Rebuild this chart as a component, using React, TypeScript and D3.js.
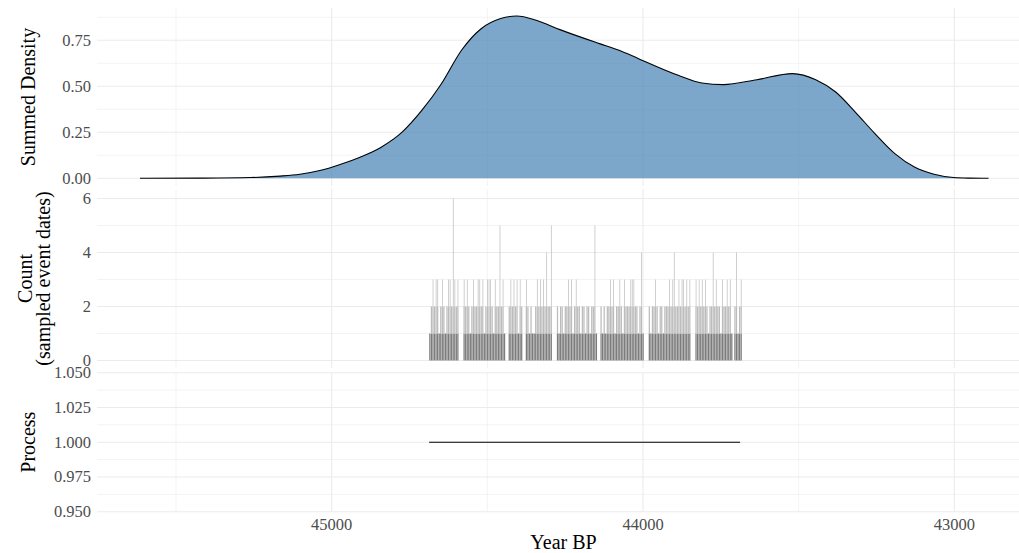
import React from "react";
import * as d3 from "d3";

// ---------- data ----------
const densityYears = [
  45616, 45423, 45262, 45166, 45102, 45038, 44973, 44909, 44845, 44773, 44710,
  44647, 44583, 44520, 44457, 44406, 44343, 44267, 44140, 44077, 44014, 43887,
  43811, 43742, 43634, 43520, 43445, 43381, 43318, 43255, 43191, 43128, 43065,
  43002, 42950, 42890,
];
const densityValues = [
  0, 0.001, 0.004, 0.012, 0.022, 0.042, 0.075, 0.115, 0.165, 0.252, 0.37, 0.515,
  0.696, 0.813, 0.868, 0.882, 0.859, 0.808, 0.732, 0.696, 0.65, 0.56, 0.518,
  0.509, 0.536, 0.569, 0.536, 0.469, 0.36, 0.243, 0.134, 0.061, 0.022, 0.004,
  0.001, 0,
];

// counts of sampled event dates, in 5-year bins starting at binStartYear (going younger)
const binStartYear = 44687;
const binWidthYears = 5;
const binCounts = [
  1, 2, 3, 2, 3, 3, 1, 2, 3, 2, 1, 2, 3, 3, 2, 6, 3, 2, 3, 0,
  0, 0, 3, 2, 3, 2, 1, 2, 3, 2, 2, 3, 3, 2, 3, 1, 2, 3, 3, 3,
  2, 1, 3, 2, 2, 5, 2, 3, 1, 0, 0, 2, 3, 2, 3, 2, 3, 1, 3, 2,
  0, 0, 3, 2, 1, 2, 1, 1, 2, 3, 2, 3, 2, 3, 2, 4, 2, 2, 5, 0,
  0, 0, 2, 1, 2, 2, 1, 2, 2, 3, 2, 3, 1, 2, 3, 2, 2, 1, 2, 2,
  1, 2, 2, 1, 2, 2, 5, 1, 0, 0, 2, 1, 2, 1, 2, 2, 3, 2, 3, 1,
  2, 2, 3, 2, 1, 3, 2, 2, 2, 3, 3, 3, 2, 2, 1, 2, 4, 1, 0, 0,
  0, 2, 1, 2, 2, 3, 2, 1, 2, 2, 1, 2, 2, 2, 3, 2, 3, 4, 2, 2,
  3, 2, 3, 3, 2, 3, 2, 3, 0, 0, 0, 3, 2, 3, 2, 3, 2, 3, 2, 1,
  2, 2, 4, 2, 3, 2, 2, 1, 3, 2, 2, 3, 2, 3, 1, 0, 2, 4, 1, 2,
  3,
];

const processStart = 44687;
const processEnd = 43688;
const processValue = 1;

const xMajorTicks = [45000, 44000, 43000];
const xMinorTicks = [45500, 44500, 43500];
const densityMajor = [0, 0.25, 0.5, 0.75];
const densityMinor = [0.125, 0.375, 0.625, 0.875];
const countMajor = [0, 2, 4, 6];
const countMinor = [1, 3, 5];
const processMajor = [0.95, 0.975, 1.0, 1.025, 1.05];
const processMinor = [0.9625, 0.9875, 1.0125, 1.0375];

// ---------- layout ----------
const W = 1019;
const H = 553;
const panelLeft = 97;
const panelRight = 1030;

const x = d3.scaleLinear().domain([45000, 43000]).range([331.7, 954.3]);

const dPanel = { top: 8, bottom: 186 };
const cPanel = { top: 189, bottom: 368 };
const pPanel = { top: 372.7, bottom: 511.7 };

const yD = d3.scaleLinear().domain([0, 0.75]).range([178.3, 40.3]);
const yC = d3.scaleLinear().domain([0, 6]).range([360.5, 198.5]);
const yP = d3.scaleLinear().domain([0.95, 1.05]).range([511.7, 372.7]);

const gridMajor = "#ebebeb";
const tickColor = "#4d4d4d";
const serif = "'Liberation Serif', 'DejaVu Serif', serif";

function VGrid({ top, bottom }: { top: number; bottom: number }) {
  return (
    <g>
      {xMinorTicks.map((t) => (
        <line key={"vm" + t} x1={x(t)} x2={x(t)} y1={top} y2={bottom} stroke={gridMajor} strokeWidth={0.6} />
      ))}
      {xMajorTicks.map((t) => (
        <line key={"vM" + t} x1={x(t)} x2={x(t)} y1={top} y2={bottom} stroke={gridMajor} strokeWidth={1.1} />
      ))}
    </g>
  );
}

function HGrid({ major, minor, y, fmt }: { major: number[]; minor: number[]; y: (v: number) => number; fmt: (v: number) => string }) {
  return (
    <g>
      {minor.map((t) => (
        <line key={"hm" + t} x1={panelLeft} x2={panelRight} y1={y(t)} y2={y(t)} stroke={gridMajor} strokeWidth={0.6} />
      ))}
      {major.map((t) => (
        <line key={"hM" + t} x1={panelLeft} x2={panelRight} y1={y(t)} y2={y(t)} stroke={gridMajor} strokeWidth={1.1} />
      ))}
      {major.map((t) => (
        <text key={"ht" + t} x={91} y={y(t)} textAnchor="end" dominantBaseline="central" fontSize={16.5} fill={tickColor} fontFamily={serif}>
          {fmt(t)}
        </text>
      ))}
    </g>
  );
}

export default function App() {
  const pts: [number, number][] = densityYears.map((yr, i) => [x(yr), yD(densityValues[i])]);
  const area = d3
    .area<[number, number]>()
    .x((d) => d[0])
    .y0(yD(0))
    .y1((d) => d[1])
    .curve(d3.curveMonotoneX)(pts) as string;
  const line = d3
    .line<[number, number]>()
    .x((d) => d[0])
    .y((d) => d[1])
    .curve(d3.curveMonotoneX)(pts) as string;

  const bars = binCounts.map((c, i) => {
    const y0 = binStartYear - binWidthYears * i;
    const x0 = x(y0);
    const x1 = x(y0 - binWidthYears);
    const bw = x1 - x0;
    const els: React.ReactNode[] = [];
    if (c >= 1) {
      els.push(
        <rect key={"a" + i} x={x0 + 0.1} width={bw - 0.3} y={yC(1)} height={yC(0) - yC(1)} fill="#7c7c7c" />
      );
    }
    if (c >= 2) {
      els.push(
        <rect key={"b" + i} x={x0 + 0.1} width={bw - 0.3} y={yC(2)} height={yC(1) - yC(2)} fill="#bcbcbc" />
      );
    }
    if (c > 2) {
      els.push(
        <rect key={"c" + i} x={x0 + bw / 2 - 0.4} width={0.8} y={yC(c)} height={yC(2) - yC(c)} fill="#c4c4c4" />
      );
    }
    return <g key={i}>{els}</g>;
  });

  const fmt2 = (v: number) => v.toFixed(2);
  const fmt0 = (v: number) => String(v);
  const fmt3 = (v: number) => v.toFixed(3);

  return (
    <svg
      width={W}
      height={H}
      style={{ position: "fixed", left: 0, top: 0, background: "#ffffff" }}
      fontFamily={serif}
    >
      <rect x={0} y={0} width={W} height={H} fill="#ffffff" />

      {/* density panel */}
      <VGrid top={dPanel.top} bottom={dPanel.bottom} />
      <HGrid major={densityMajor} minor={densityMinor} y={yD} fmt={fmt2} />
      <path d={area} fill="steelblue" fillOpacity={0.7} />
      <path d={line} fill="none" stroke="#000" strokeWidth={1.1} />

      {/* count panel */}
      <VGrid top={cPanel.top} bottom={cPanel.bottom} />
      <HGrid major={countMajor} minor={countMinor} y={yC} fmt={fmt0} />
      <g>{bars}</g>

      {/* process panel */}
      <VGrid top={pPanel.top} bottom={pPanel.bottom} />
      <HGrid major={processMajor} minor={processMinor} y={yP} fmt={fmt3} />
      <line x1={x(processStart)} x2={x(processEnd)} y1={yP(processValue)} y2={yP(processValue)} stroke="#000" strokeWidth={1.1} />

      {/* x axis */}
      {xMajorTicks.map((t) => (
        <text key={"xt" + t} x={x(t)} y={530} textAnchor="middle" fontSize={16.5} fill={tickColor}>
          {t}
        </text>
      ))}
      <text x={(panelLeft + panelRight) / 2} y={549} textAnchor="middle" fontSize={20} fill="#000">
        Year BP
      </text>

      {/* y titles */}
      <text transform={`translate(28, ${(dPanel.top + dPanel.bottom) / 2}) rotate(-90)`} textAnchor="middle" dominantBaseline="central" fontSize={20} fill="#000">
        Summed Density
      </text>
      <text transform={`translate(25, ${(cPanel.top + cPanel.bottom) / 2}) rotate(-90)`} textAnchor="middle" dominantBaseline="central" fontSize={20} fill="#000">
        Count
      </text>
      <text transform={`translate(43, ${(cPanel.top + cPanel.bottom) / 2}) rotate(-90)`} textAnchor="middle" dominantBaseline="central" fontSize={20} fill="#000">
        (sampled event dates)
      </text>
      <text transform={`translate(28, ${(pPanel.top + pPanel.bottom) / 2}) rotate(-90)`} textAnchor="middle" dominantBaseline="central" fontSize={20} fill="#000">
        Process
      </text>
    </svg>
  );
}
